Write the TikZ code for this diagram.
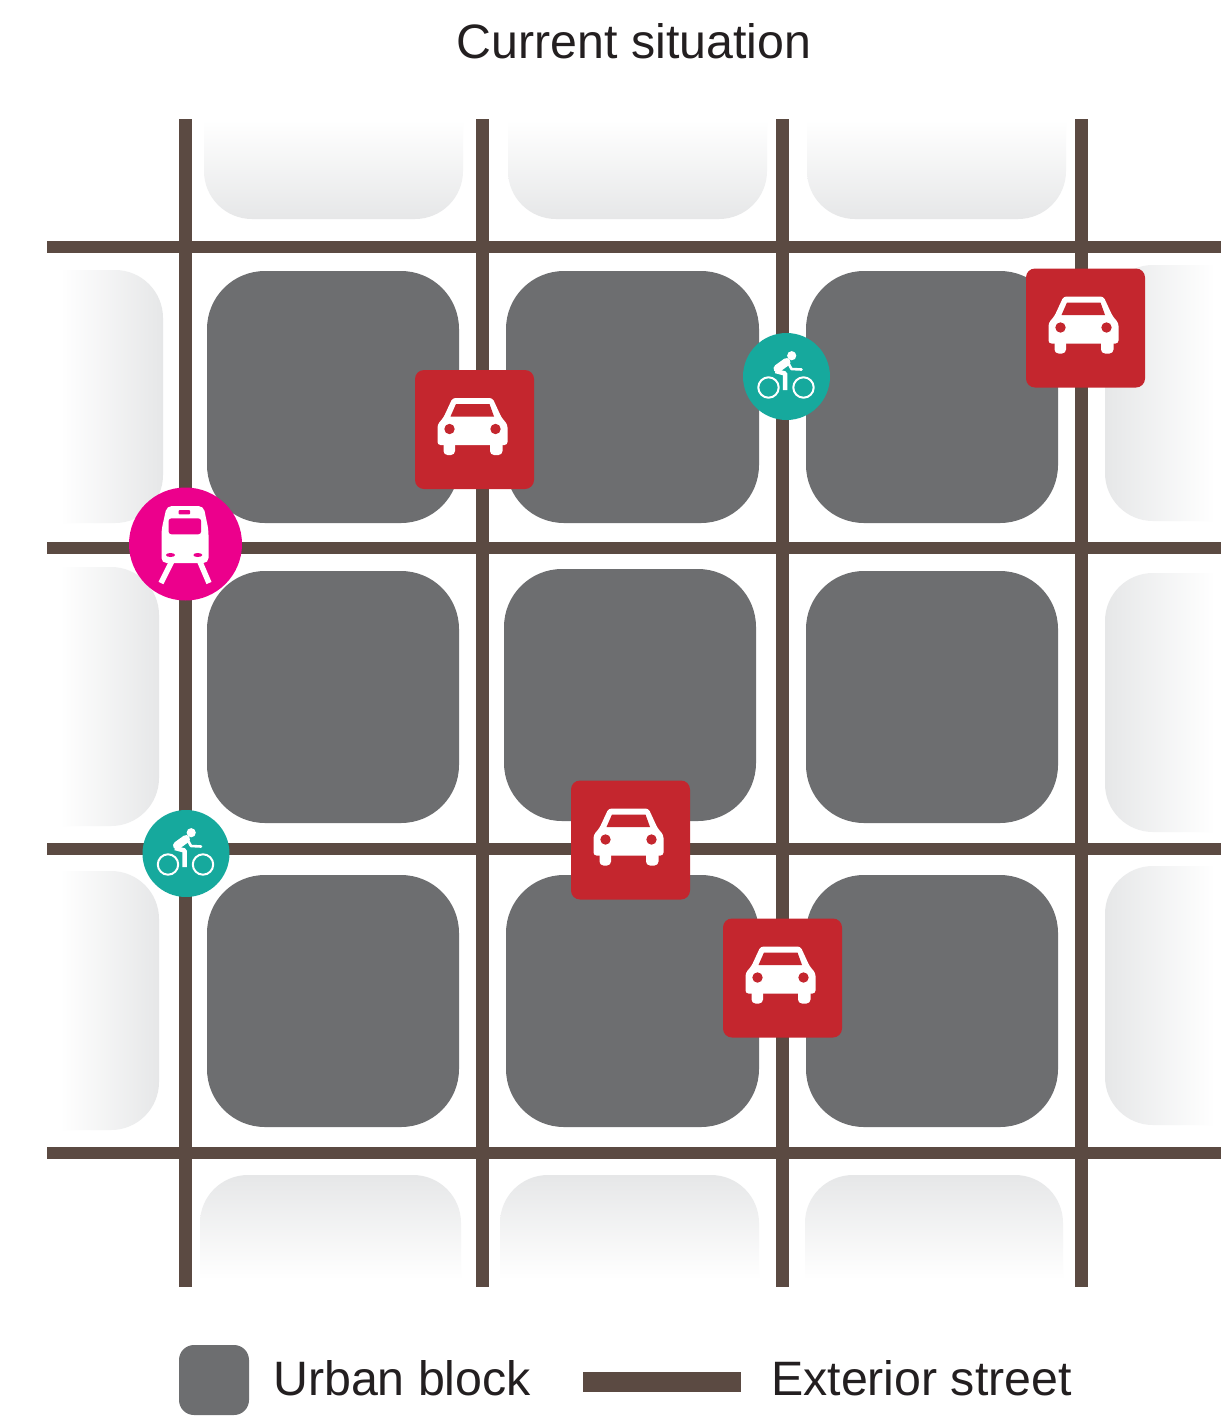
\documentclass[tikz,border=0pt]{standalone}
\usepackage{fontspec}
\setmainfont{Liberation Sans}
\definecolor{street}{HTML}{5B4A42}
\definecolor{blockgrey}{HTML}{6D6E70}
\definecolor{carred}{HTML}{C4262E}
\definecolor{trainpink}{HTML}{EC008C}
\definecolor{biketeal}{HTML}{16A99D}
\definecolor{ghostedge}{HTML}{E6E7E8}
\definecolor{ghostmid}{HTML}{F8F8F8}
\definecolor{inktext}{HTML}{231F20}
\tikzset{
  vstreet/.style={draw=street,line width=13pt},
  hstreet/.style={draw=street,line width=12pt},
  urban/.style={fill=blockgrey,rounded corners=58pt},
  ghostT/.style={top color=white,middle color=ghostmid,bottom color=ghostedge},
  ghostB/.style={bottom color=white,middle color=ghostmid,top color=ghostedge},
  ghostL/.style={left color=white,middle color=ghostmid,right color=ghostedge},
  ghostR/.style={right color=white,middle color=ghostmid,left color=ghostedge},
  carbox/.style={fill=carred,rounded corners=9pt,minimum size=119pt,inner sep=0pt},
  bikedisc/.style={circle,fill=biketeal,minimum size=87pt,inner sep=0pt},
  traindisc/.style={circle,fill=trainpink,minimum size=113pt,inner sep=0pt},
  label/.style={inner sep=0pt,text=inktext,font=\fontsize{48.3}{52}\selectfont},
  pics/car/.style={code={
    \fill[white,rounded corners=3pt] (-20,-31.5) -- (20,-31.5) -- (29,-12) -- (35,-5) -- (35,15.5) -- (-35,15.5) -- (-35,-5) -- (-29,-12) -- cycle;
    \fill[white,rounded corners=4pt] (-29,8) rectangle (-17.5,25.5);
    \fill[white,rounded corners=4pt] (17.5,8) rectangle (30,25.5);
    \fill[carred] (-16.5,-25.5) -- (17,-25.5) -- (21.5,-13) -- (-22,-13) -- cycle;
    \fill[carred] (-23,-0.5) circle (5.2);
    \fill[carred] (23,-0.5) circle (5.2);
  }},
  pics/bike/.style={code={
    \draw[white,line width=2pt] (-18,11) circle (10.2);
    \draw[white,line width=2pt] (17,11) circle (10.2);
    \fill[white] (5.2,-20.8) circle (4.6);
    \draw[white,line width=8pt,line cap=round] (-9,-8) -- (0,-14.5);
    \draw[white,line width=2.6pt,line cap=round,line join=round] (2,-13) -- (5,-7.5) -- (15,-7);
    \draw[white,line width=4.5pt,line join=round] (-11,-5.5) -- (-1.5,-3) -- (-1.5,13.5);
  }},
  pics/train/.style={code={
    \fill[white,rounded corners=5pt] (-18.7,-38) -- (18,-38) -- (23,-14) -- (23,19) -- (-24,19) -- (-24,-14) -- cycle;
    \fill[trainpink,rounded corners=3pt] (-17,-25.7) rectangle (15.7,-9.7);
    \fill[trainpink,rounded corners=1pt] (-7,-34) rectangle (4.7,-29.7);
    \fill[trainpink] (-15,11) ellipse (4.5 and 2);
    \fill[trainpink] (12.3,11) ellipse (4.5 and 2);
    \draw[white,line width=5.5pt] (-14,18) -- (-24.5,39);
    \draw[white,line width=5.5pt] (14.5,18) -- (23.5,39);
  }}
}
\begin{document}
\begin{tikzpicture}[x=1pt,y=-1pt]
\useasboundingbox (0,0) rectangle (1230,1424);
\fill[white] (0,0) rectangle (1230,1424);
% faded surrounding blocks: each is rounded only at the end nearest the grid
\shade[ghostT] (204,120) -- (463,120) [rounded corners=48pt] -- (463,219) -- (204,219) [sharp corners] -- cycle;
\shade[ghostT] (508,120) -- (767,120) [rounded corners=48pt] -- (767,219) -- (508,219) [sharp corners] -- cycle;
\shade[ghostT] (807,120) -- (1066,120) [rounded corners=48pt] -- (1066,219) -- (807,219) [sharp corners] -- cycle;
\shade[ghostB] (200,1280) -- (461,1280) [rounded corners=48pt] -- (461,1175) -- (200,1175) [sharp corners] -- cycle;
\shade[ghostB] (500,1280) -- (759,1280) [rounded corners=48pt] -- (759,1175) -- (500,1175) [sharp corners] -- cycle;
\shade[ghostB] (805,1280) -- (1063,1280) [rounded corners=48pt] -- (1063,1175) -- (805,1175) [sharp corners] -- cycle;
\shade[ghostL] (60,270) -- (60,523) [rounded corners=48pt] -- (163,523) -- (163,270) [sharp corners] -- cycle;
\shade[ghostL] (60,567) -- (60,826) [rounded corners=48pt] -- (159,826) -- (159,567) [sharp corners] -- cycle;
\shade[ghostL] (60,871) -- (60,1130) [rounded corners=48pt] -- (159,1130) -- (159,871) [sharp corners] -- cycle;
\shade[ghostR] (1215,265) -- (1215,521) [rounded corners=48pt] -- (1105,521) -- (1105,265) [sharp corners] -- cycle;
\shade[ghostR] (1215,573) -- (1215,832) [rounded corners=48pt] -- (1105,832) -- (1105,573) [sharp corners] -- cycle;
\shade[ghostR] (1215,866) -- (1215,1125) [rounded corners=48pt] -- (1105,1125) -- (1105,866) [sharp corners] -- cycle;
% urban blocks
\fill[urban] (207,271) rectangle (459,523);
\fill[urban] (506,271) rectangle (759,523);
\fill[urban] (806,271) rectangle (1058,523);
\fill[urban] (207,571) rectangle (459,823);
\fill[urban] (504,569) rectangle (756,821);
\fill[urban] (806,571) rectangle (1058,823);
\fill[urban] (207,875) rectangle (459,1127);
\fill[urban] (506,875) rectangle (759,1127);
\fill[urban] (806,875) rectangle (1058,1127);
% streets
\foreach \sx in {185.5,482,782,1081.5} \draw[vstreet] (\sx,119) -- (\sx,1287);
\foreach \sy in {247,548,849,1153} \draw[hstreet] (47,\sy) -- (1221,\sy);
% markers
\node[carbox] (car1) at (474.5,429.5) {};
\node[carbox] (car2) at (1085.5,328) {};
\node[carbox] (car3) at (630.5,840) {};
\node[carbox] (car4) at (782.5,978) {};
\pic at (472.5,429.5) {car};
\pic at (1083.5,328) {car};
\pic at (628.5,840) {car};
\pic at (780.5,978) {car};
\node[bikedisc] (bike1) at (786.5,376.5) {};
\node[bikedisc] (bike2) at (186,853.5) {};
\pic at (786.5,376.5) {bike};
\pic at (186,853.5) {bike};
\node[traindisc] (train) at (185.5,544) {};
\pic at (185.5,544) {train};
% title and legend
\node[label,anchor=base] (title) at (634,58) {Current situation};
\fill[blockgrey,rounded corners=15pt] (179,1345) rectangle (249,1415);
\node[label,anchor=base west] (lblock) at (273,1395) {Urban block};
\fill[street] (583,1372) rectangle (741,1392);
\node[label,anchor=base west] (lstreet) at (771,1395) {Exterior street};
\end{tikzpicture}
\end{document}
